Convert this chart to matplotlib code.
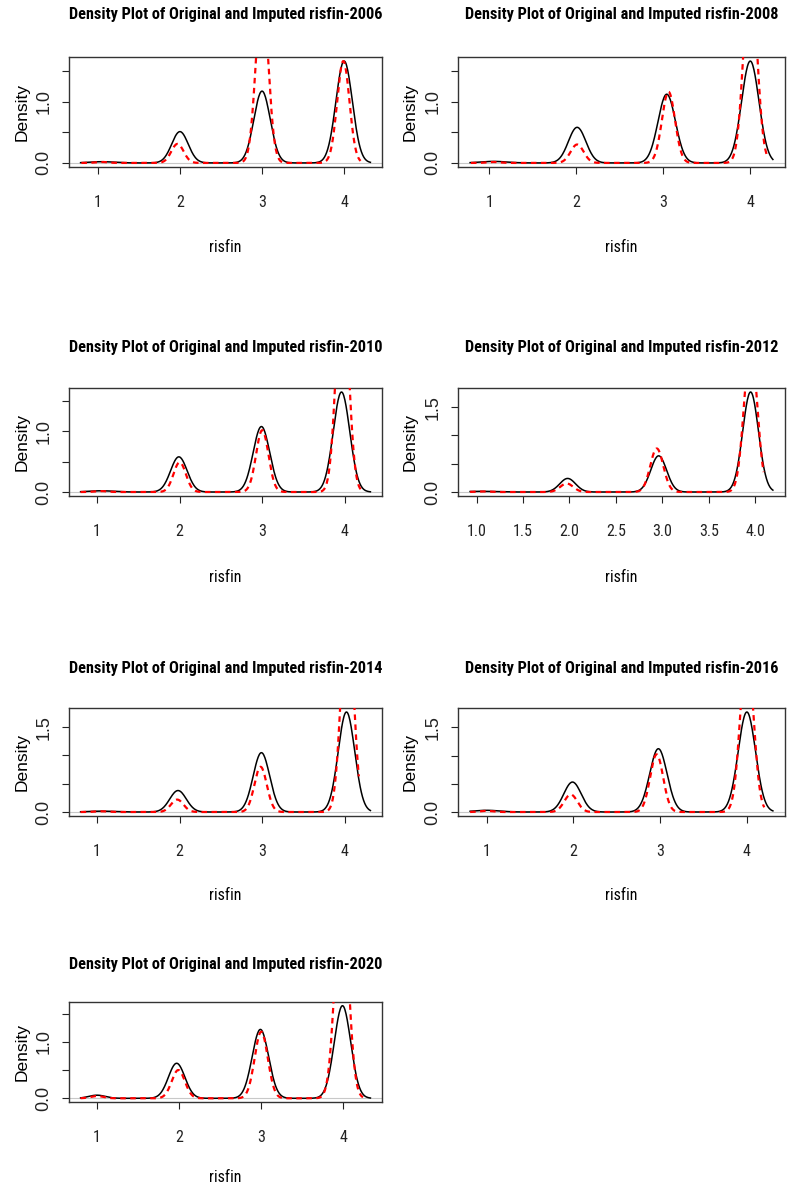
import numpy as np
import matplotlib.pyplot as plt

# Density plots of original (black) vs imputed (red, dashed) risfin, per wave.
# Each curve is rebuilt from the bumps:
# peak position, peak height and bump width (sd) for the values 1..4.

years = ['2006', '2008', '2010', '2012', '2014', '2016', '2020']

black_pos = [[1.05, 2.00, 3.00, 4.00],
             [1.05, 2.01, 3.04, 4.00],
             [1.05, 1.99, 2.99, 3.96],
             [1.05, 1.98, 2.96, 3.95],
             [1.05, 1.98, 2.99, 4.02],
             [1.00, 1.99, 2.98, 4.00],
             [1.00, 1.97, 2.99, 3.99]]
black_height = [[0.020, 0.51, 1.17, 1.66],
                [0.025, 0.58, 1.12, 1.66],
                [0.020, 0.58, 1.08, 1.65],
                [0.012, 0.24, 0.64, 1.77],
                [0.015, 0.38, 1.05, 1.77],
                [0.030, 0.53, 1.12, 1.77],
                [0.055, 0.62, 1.22, 1.64]]
black_sd = [[0.15, 0.10, 0.10, 0.10],
            [0.15, 0.10, 0.10, 0.10],
            [0.15, 0.10, 0.10, 0.10],
            [0.15, 0.085, 0.085, 0.085],
            [0.15, 0.10, 0.10, 0.10],
            [0.15, 0.10, 0.10, 0.10],
            [0.10, 0.10, 0.10, 0.10]]
black_range = [[0.79, 4.32], [0.78, 4.26], [0.80, 4.31], [0.93, 4.19],
               [0.80, 4.31], [0.81, 4.30], [0.80, 4.33]]

red_pos = [[1.05, 1.97, 3.00, 3.99],
           [1.05, 2.01, 3.06, 4.00],
           [1.05, 2.00, 3.00, 3.97],
           [1.05, 1.97, 2.94, 3.95],
           [1.05, 1.97, 2.98, 4.03],
           [1.00, 1.97, 2.96, 4.00],
           [1.00, 1.99, 3.00, 3.98]]
red_height = [[0.015, 0.31, 2.75, 1.66],
              [0.015, 0.30, 1.16, 3.15],
              [0.015, 0.49, 1.02, 3.50],
              [0.010, 0.15, 0.77, 2.60],
              [0.012, 0.22, 0.80, 3.60],
              [0.020, 0.31, 1.02, 2.90],
              [0.040, 0.50, 1.18, 3.70]]
red_sd = [0.075, 0.075, 0.075, 0.07, 0.075, 0.075, 0.08]
red_range = [[0.80, 4.20], [0.79, 4.20], [0.80, 4.23], [0.93, 4.09],
             [0.80, 4.17], [0.81, 4.20], [0.80, 4.24]]

x_ticks = [[1, 2, 3, 4], [1, 2, 3, 4], [1, 2, 3, 4],
           [1.0, 1.5, 2.0, 2.5, 3.0, 3.5, 4.0],
           [1, 2, 3, 4], [1, 2, 3, 4], [1, 2, 3, 4]]
x_ticklabels = [['1', '2', '3', '4'], ['1', '2', '3', '4'], ['1', '2', '3', '4'],
                ['1.0', '1.5', '2.0', '2.5', '3.0', '3.5', '4.0'],
                ['1', '2', '3', '4'], ['1', '2', '3', '4'], ['1', '2', '3', '4']]
y_ticks = [0.0, 0.5, 1.0, 1.5]
y_ticklabels = [['0.0', '', '1.0', ''], ['0.0', '', '1.0', ''], ['0.0', '', '1.0', ''],
                ['0.0', '', '', '1.5'], ['0.0', '', '', '1.5'], ['0.0', '', '', '1.5'],
                ['0.0', '', '1.0', '']]

# the R output looks like a narrow Arial
plt.rcParams['font.family'] = ['Roboto Condensed', 'PT Sans Narrow', 'Liberation Sans', 'DejaVu Sans']

W, H = 787, 1184
fig = plt.figure(figsize=(W / 100, H / 100), dpi=100)
fig.patch.set_facecolor('white')

cols = [(69, 382), (458, 785)]
rows = [(57, 167), (388, 496), (708, 816), (1002, 1102)]
title_y = [15, 348, 668, 965]
xlab_y = [248, 577, 895, 1177]
ylab_x = [22, 410]


def curve(pos, height, sd, lo, hi):
    x = np.linspace(lo, hi, 512)
    y = np.zeros_like(x)
    for p, h, s in zip(pos, height, sd):
        y += h * np.exp(-0.5 * ((x - p) / s) ** 2)
    return x, y


for i, yr in enumerate(years):
    r, c = divmod(i, 2)
    x0, x1 = cols[c]
    y0, y1 = rows[r]
    ax = fig.add_axes([x0 / W, 1 - y1 / H, (x1 - x0) / W, (y1 - y0) / H])

    bx, by = curve(black_pos[i], black_height[i], black_sd[i], *black_range[i])
    rx, ry = curve(red_pos[i], red_height[i], [red_sd[i]] * 4, *red_range[i])

    ax.axhline(0, color='#c8c8c8', lw=0.8, zorder=1)
    ax.plot(bx, by, color='black', lw=1.1, zorder=3)
    ax.plot(rx, ry, color='red', lw=1.6, dashes=(2.5, 2), zorder=4)

    # R style limits: 4% padding around the original density
    span = bx.max() - bx.min()
    ax.set_xlim(bx.min() - 0.04 * span, bx.max() + 0.04 * span)
    ax.set_ylim(-0.04 * by.max(), 1.04 * by.max())

    ax.set_xticks(x_ticks[i])
    ax.set_xticklabels(x_ticklabels[i], fontsize=11.5)
    ax.set_yticks(y_ticks)
    ax.set_yticklabels(y_ticklabels[i], fontsize=13, rotation=90, va='center',
                       family=['Liberation Sans', 'DejaVu Sans'])
    ax.tick_params(axis='x', length=5, width=0.8, pad=15, colors='#222222')
    ax.tick_params(axis='y', length=5, width=0.8, pad=7, colors='#222222')
    for sp in ax.spines.values():
        sp.set_color('#333333')
        sp.set_linewidth(1.0)

    cx = (x0 + x1) / 2
    fig.text(cx / W, 1 - title_y[r] / H,
             'Density Plot of Original and Imputed risfin-' + yr,
             ha='center', va='center', fontsize=11.7, fontweight='bold')
    fig.text(cx / W, 1 - xlab_y[r] / H, 'risfin',
             ha='center', va='center', fontsize=11.5)
    fig.text(ylab_x[c] / W, 1 - (y0 + y1) / 2 / H, 'Density',
             ha='center', va='center', fontsize=12.5, rotation=90,
             family=['Liberation Sans', 'DejaVu Sans'])

fig.savefig('out.png', dpi=100)
